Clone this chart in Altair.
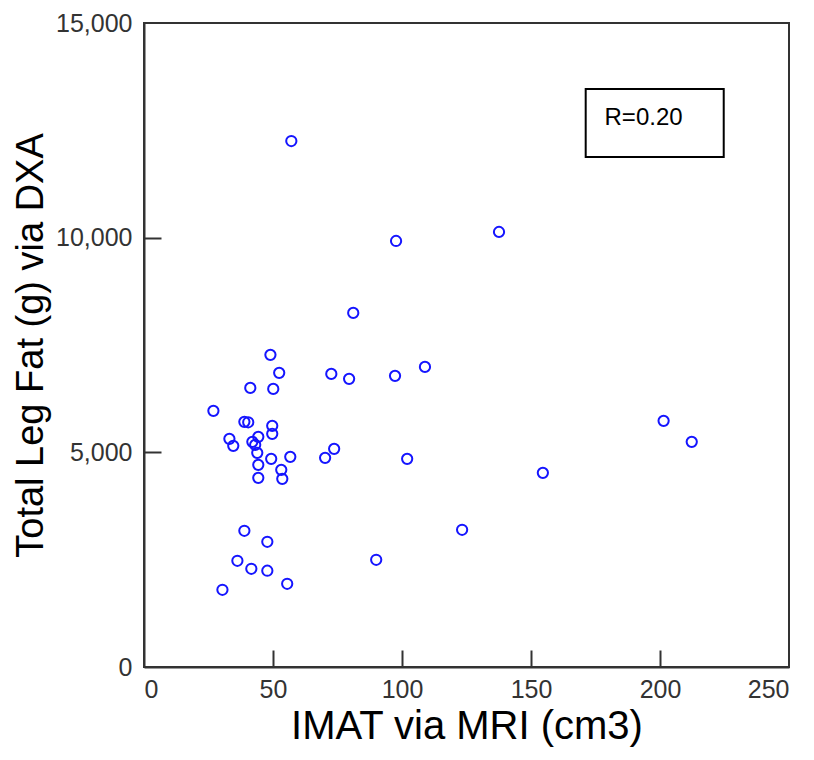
import altair as alt
import pandas as pd

imat = [57.1, 137.6, 97.7, 81.1, 49.0, 52.4, 72.6, 79.5, 97.3, 108.9,
        41.2, 50.1, 26.9, 38.9, 40.4, 49.7, 49.7, 33.1, 34.6, 42.0,
        44.3, 43.1, 43.9, 44.3, 44.3, 49.3, 56.7, 53.2, 53.6, 70.2,
        73.7, 102.0, 154.6, 201.4, 212.3, 123.3, 38.9, 47.8, 90.0, 36.2,
        41.6, 47.8, 55.5, 30.4]
legfat = [12251, 10133, 9923, 8247, 7270, 6851, 6827, 6711, 6781, 6990,
          6501, 6478, 5966, 5710, 5700, 5617, 5431, 5314, 5151, 5245,
          5361, 5175, 4988, 4709, 4406, 4849, 4895, 4593, 4383, 4872,
          5081, 4849, 4523, 5733, 5245, 3196, 3173, 2917, 2498, 2474,
          2288, 2242, 1939, 1799]

x_ticks = [0, 50, 100, 150, 200, 250]
y_ticks = [0, 5000, 10000, 15000]
x_inner_ticks = [50, 100, 150, 200]
y_inner_ticks = [5000, 10000]

annot_text = "R=0.20"
annot_box = {"x": [171.2], "x2": [224.7], "y": [13461], "y2": [11878]}
annot_pos = {"x": [178.5], "y": [12786], "label": [annot_text]}

W, H = 645, 644

df = pd.DataFrame({"imat": imat, "fat": legfat})

xs = alt.Scale(domain=[0, 250], nice=False)
ys = alt.Scale(domain=[0, 15000], nice=False)

xaxis = alt.Axis(values=x_ticks, ticks=False, grid=False, domainColor="#333333",
                 domainWidth=2, labelFont="Liberation Sans", labelFontSize=25,
                 labelColor="#333333", labelPadding=10, title="IMAT via MRI (cm3)",
                 titleFont="Liberation Sans", titleFontSize=40, titleFontWeight="normal",
                 titleColor="#000000", titlePadding=4)
yaxis = alt.Axis(values=y_ticks, ticks=False, grid=False, domainColor="#333333",
                 domainWidth=2, labelFont="Liberation Sans", labelFontSize=25,
                 labelColor="#333333", labelPadding=12, format=",d",
                 title="Total Leg Fat (g) via DXA", titleFont="Liberation Sans",
                 titleFontSize=38, titleFontWeight="normal", titleColor="#000000",
                 titlePadding=5)

# tick-only axes flipped onto the bottom/left edges so the ticks point inward
xtick_axis = alt.Axis(orient="top", offset=-H, values=x_inner_ticks, ticks=True,
                      tickSize=17, tickWidth=2, tickColor="#333333", labels=False,
                      domain=False, grid=False, title=None, zindex=2)
ytick_axis = alt.Axis(orient="right", offset=-W, values=y_inner_ticks, ticks=True,
                      tickSize=17, tickWidth=2, tickColor="#333333", labels=False,
                      domain=False, grid=False, title=None, zindex=2)

points = alt.Chart(df).mark_point(shape="circle", filled=False, size=105,
                                  color="#1515ff", strokeWidth=2, opacity=1).encode(
    x=alt.X("imat:Q", scale=xs, axis=xaxis),
    y=alt.Y("fat:Q", scale=ys, axis=yaxis),
)

tick_layer = alt.Chart(df).mark_point(opacity=0).encode(
    x=alt.X("imat:Q", scale=xs, axis=xtick_axis),
    y=alt.Y("fat:Q", scale=ys, axis=ytick_axis),
)

box = alt.Chart(pd.DataFrame(annot_box)).mark_rect(
    fill="white", stroke="black", strokeWidth=2).encode(
    x=alt.X("x:Q", scale=xs), x2="x2:Q", y=alt.Y("y:Q", scale=ys), y2="y2:Q")
txt = alt.Chart(pd.DataFrame(annot_pos)).mark_text(
    align="left", baseline="middle", font="Liberation Sans", fontSize=24,
    color="black").encode(
    x=alt.X("x:Q", scale=xs), y=alt.Y("y:Q", scale=ys), text="label:N")

main = alt.layer(points, box, txt)

chart = alt.layer(main, tick_layer).resolve_axis(
    x="independent", y="independent"
).properties(
    width=W, height=H, background="white",
    padding={"left": 4, "top": 3, "right": 5, "bottom": 5}
).configure_view(stroke="#333333", strokeWidth=2)

chart.save("out.html", embed_options={"renderer": "svg", "actions": False})
